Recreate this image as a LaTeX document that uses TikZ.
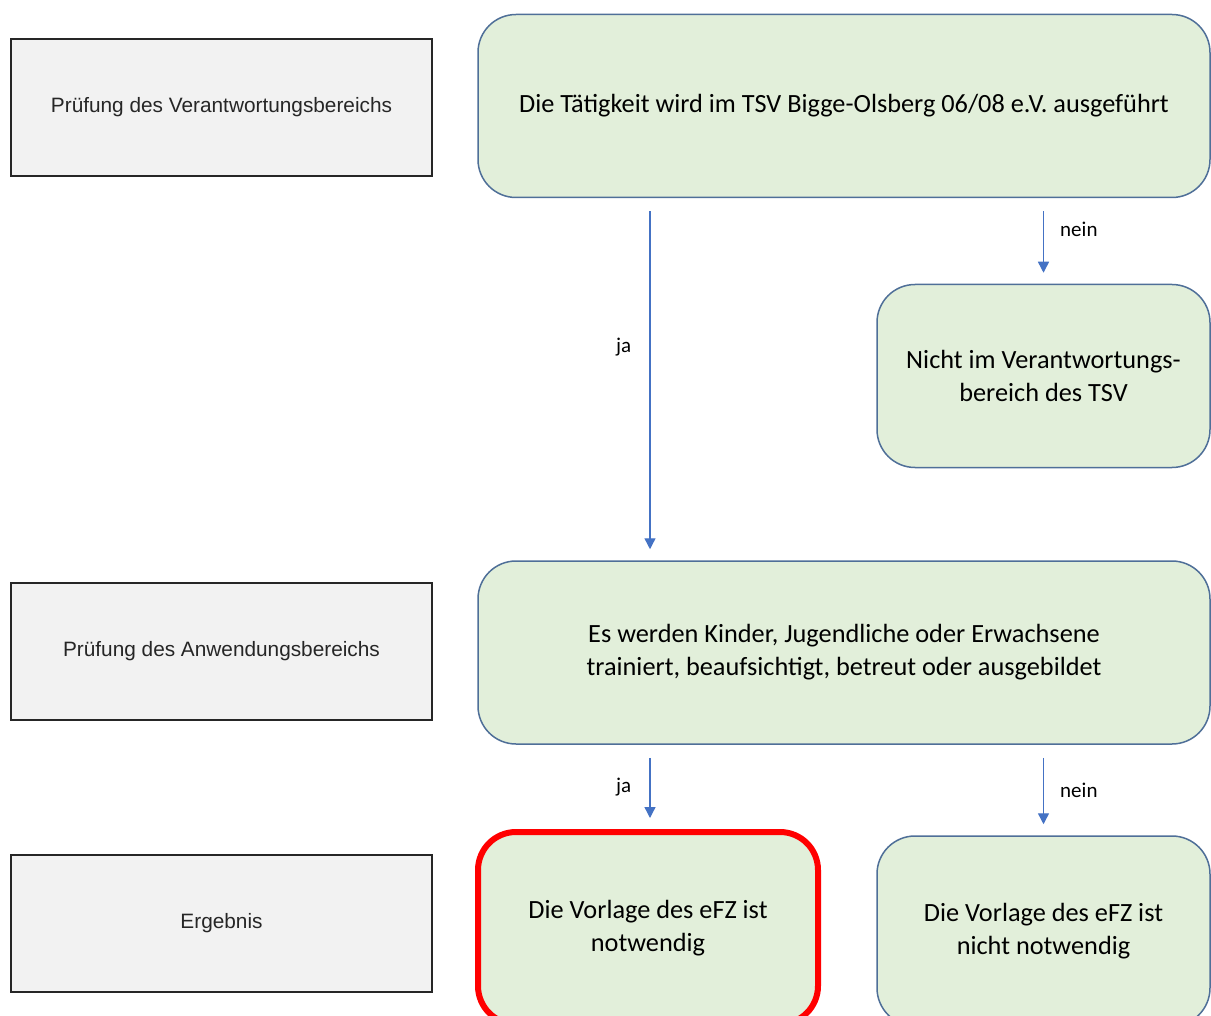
\documentclass[tikz,border=0pt]{standalone}
\usepackage{fontspec}
\setmainfont{Carlito}
\newfontfamily\arialfont{Liberation Sans}
\usetikzlibrary{arrows.meta}
\definecolor{boxgruen}{HTML}{E2EFDA}
\definecolor{randblau}{HTML}{4F6F98}
\definecolor{pfeilblau}{HTML}{4472C4}
\definecolor{boxgrau}{HTML}{F2F2F2}
\begin{document}
\begin{tikzpicture}[x=1pt,y=-1pt,
    graubox/.style={draw=black!85,line width=2pt,fill=boxgrau,
      minimum width=421pt,minimum height=137pt,inner sep=0pt,
      font=\arialfont\fontsize{20.8}{25}\selectfont,text=black!85},
    gruenbox/.style={draw=randblau,line width=1.5pt,fill=boxgruen,
      rounded corners=38pt,minimum height=183pt,inner sep=0pt,align=center,
      font=\fontsize{26.3}{33}\selectfont},
    pfeil/.style={draw=pfeilblau,line width=1.4pt,
      -{Triangle[width=11pt,length=11pt]},shorten <=13pt,shorten >=11pt},
    marke/.style={font=\fontsize{21}{25}\selectfont,inner sep=0pt}]
  \useasboundingbox (0,0) rectangle (1211,1016);
  \draw
    (221.5,107.5) node[graubox] (pruefung){Prüfung des Verantwortungsbereichs}
    (221.5,651) node[graubox] (anwendung){Prüfung des Anwendungsbereichs}
    (221.5,923.5) node[graubox] (ergebnis){Ergebnis}
    (844,106) node[gruenbox,minimum width=732pt] (taetigkeit){Die Tätigkeit wird im TSV Bigge-Olsberg 06/08 e.V. ausgeführt}
    (1043.5,376) node[gruenbox,minimum width=333pt] (nichttsv){Nicht im Verantwortungs-\\bereich des TSV}
    (844,652.5) node[gruenbox,minimum width=732pt] (kinder){Es werden Kinder, Jugendliche oder Erwachsene\\trainiert, beaufsichtigt, betreut oder ausgebildet}
    (648,928) node[gruenbox,minimum width=340pt,minimum height=192pt,draw=red,line width=6pt] (noetig){Die Vorlage des eFZ ist\\notwendig}
    (1043.5,931) node[gruenbox,minimum width=333pt,minimum height=190pt] (nichtnoetig){Die Vorlage des eFZ ist\\nicht notwendig};
  \begin{scope}[pfeil]
    \draw ([xshift=2pt]taetigkeit.south -| noetig.north) to node[pos=0.41,left=18pt,marke]{ja} ([xshift=2pt]kinder.north -| noetig.north);
    \draw (taetigkeit.south -| nichttsv.north) to node[pos=0.36,right=16pt,marke]{nein} (nichttsv.north);
    \draw ([xshift=2pt]kinder.south -| noetig.north) to node[pos=0.5,left=18pt,marke]{ja} ([xshift=2pt]noetig.north);
    \draw (kinder.south -| nichtnoetig.north) to node[pos=0.5,right=16pt,marke]{nein} (nichtnoetig.north);
  \end{scope}
\end{tikzpicture}
\end{document}
